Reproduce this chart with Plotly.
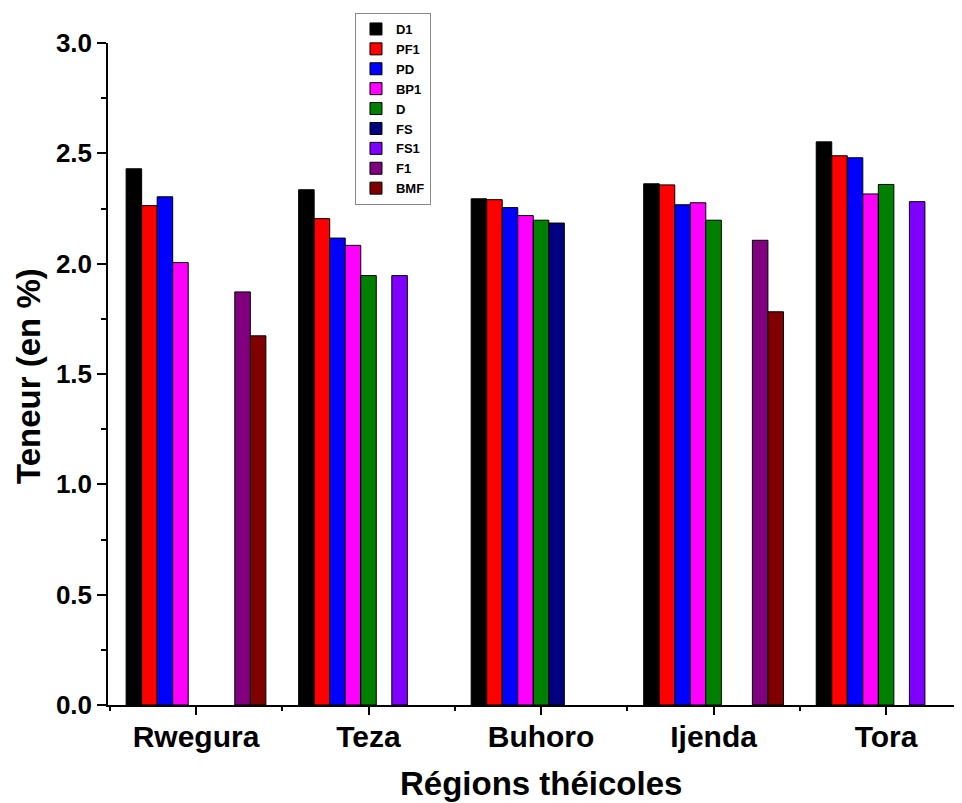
import plotly.graph_objects as go

regions = ["Rwegura", "Teza", "Buhoro", "Ijenda", "Tora"]
series_names = ["D1", "PF1", "PD", "BP1", "D", "FS", "FS1", "F1", "BMF"]
colors = ["#000000", "#FF0000", "#0000FF", "#FF00FF", "#008000",
          "#000080", "#8000FF", "#800080", "#800000"]

D1 = [2.43, 2.335, 2.294, 2.362, 2.552]
PF1 = [2.263, 2.204, 2.290, 2.357, 2.489]
PD = [2.303, 2.116, 2.254, 2.267, 2.480]
BP1 = [2.005, 2.083, 2.218, 2.276, 2.316]
D = [None, 1.946, 2.197, 2.197, 2.359]
FS = [None, None, 2.184, None, None]
FS1 = [None, 1.946, None, None, 2.281]
F1 = [1.872, None, None, 2.106, None]
BMF = [1.673, None, None, 1.782, None]

values = [D1, PF1, PD, BP1, D, FS, FS1, F1, BMF]
xpos = list(range(len(regions)))

fig = go.Figure()
for name, col, vals in zip(series_names, colors, values):
    fig.add_trace(go.Bar(
        x=xpos, y=vals, name=name,
        marker=dict(color=col, line=dict(color="black", width=1)),
    ))

font_family = "Liberation Sans, Arial, sans-serif"

# page body has an 8px default margin, so the figure is sized to fit the window
fig.update_layout(
    width=954, height=795,
    barmode="group", bargap=0.19, bargroupgap=0,
    plot_bgcolor="white", paper_bgcolor="white",
    margin=dict(l=100, r=0, t=35, b=98, autoexpand=False),
    font=dict(family=font_family, color="black"),
    showlegend=True,
    legend=dict(
        xref="container", yref="container",
        x=0.3637, y=0.9937, xanchor="left", yanchor="top",
        bordercolor="#888888", borderwidth=1,
        font=dict(size=13, family=font_family, weight="bold"),
        tracegroupgap=0, itemwidth=30,
    ),
    xaxis=dict(
        range=[-0.51, 4.44], automargin=False,
        tickmode="array", tickvals=xpos, ticktext=regions,
        ticks="outside", ticklen=8, tickwidth=1.5, tickcolor="black",
        ticklabelstandoff=-4,
        showline=True, linecolor="black", linewidth=1.5,
        showgrid=False, zeroline=False,
        tickfont=dict(size=30, family=font_family, weight="bold"),
        minor=dict(tickmode="linear", tick0=-0.5, dtick=1, ticks="outside",
                   ticklen=4, tickwidth=1.5, tickcolor="black", showgrid=False),
    ),
    yaxis=dict(
        range=[0, 3.0], automargin=False,
        tickmode="linear", tick0=0, dtick=0.5, tickformat=".1f",
        ticks="outside", ticklen=9, tickwidth=1.5, tickcolor="black",
        showline=True, linecolor="black", linewidth=1.5,
        showgrid=False, zeroline=False,
        tickfont=dict(size=26, family=font_family, weight="bold"),
        minor=dict(tickmode="linear", tick0=0.25, dtick=0.5, ticks="outside",
                   ticklen=5, tickwidth=1.5, tickcolor="black", showgrid=False),
    ),
    annotations=[
        dict(text="Régions théicoles", xref="paper", yref="paper",
             x=0.507, y=-0.118, xanchor="center", yanchor="middle",
             showarrow=False,
             font=dict(size=33, family=font_family, weight="bold", color="black")),
        dict(text="Teneur (en %)", xref="paper", yref="paper",
             x=-0.0925, y=0.497, xanchor="center", yanchor="middle",
             textangle=-90, showarrow=False,
             font=dict(size=33, family=font_family, weight="bold", color="black")),
    ],
)

fig.write_html("out.html")
